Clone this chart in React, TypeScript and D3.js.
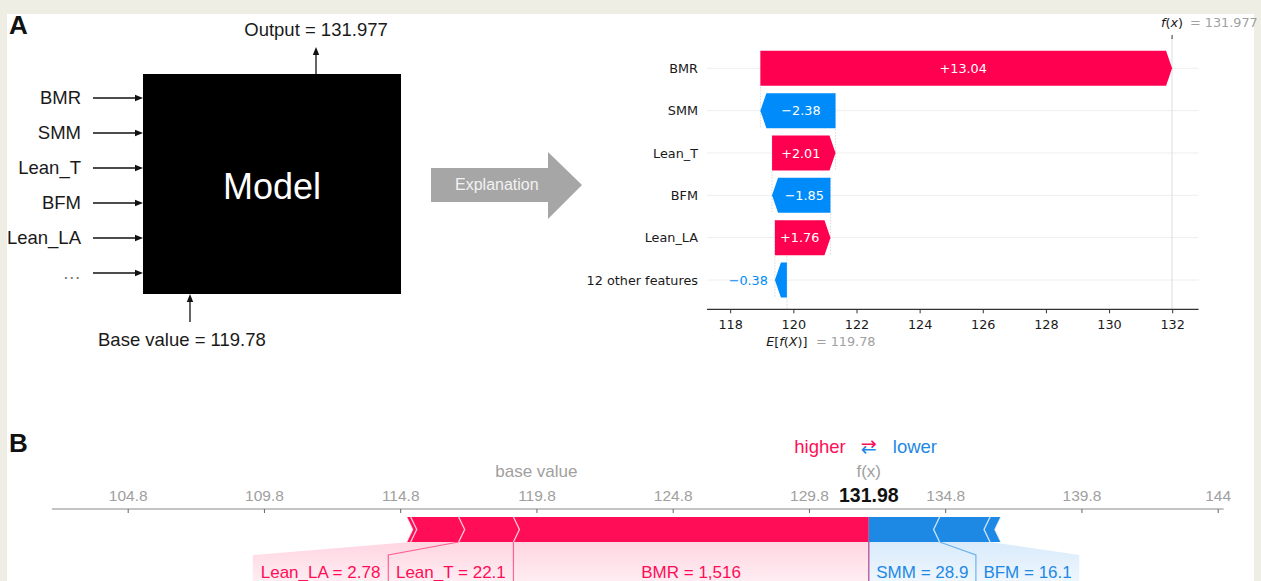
import React, { useMemo } from "react";
import * as d3 from "d3";

const W = 1261;
const H = 581;

// ---- Panel A: model schematic ----
const modelInputs = ["BMR", "SMM", "Lean_T", "BFM", "Lean_LA", "…"];
const modelOutput = 131.977;
const modelBase = 119.78;

// ---- Panel A: waterfall explanation ----
const wfFeatures = ["BMR", "SMM", "Lean_T", "BFM", "Lean_LA", "12 other features"];
const wfValues = [13.04, -2.38, 2.01, -1.85, 1.76, -0.38];
const wfTicks = [118, 120, 122, 124, 126, 128, 130, 132];

// ---- Panel B: force plot ----
// positive contributions, ordered outward from f(x)
const posLabels = ["BMR = 1,516", "Lean_T = 22.1", "Lean_LA = 2.78", ""];
const posValues = [13.04, 2.01, 1.76, 0.15];
// negative contributions, ordered outward from f(x)
const negLabels = ["SMM = 28.9", "BFM = 16.1", ""];
const negValues = [2.38, 1.85, 0.4];
const forceTicks = [104.8, 109.8, 114.8, 119.8, 124.8, 129.8, 134.8, 139.8, 144.8];
const forceTickLabels = ["104.8", "109.8", "114.8", "119.8", "124.8", "129.8", "134.8", "139.8", "144"];

const SANS = "'Liberation Sans', Arial, Helvetica, sans-serif";
const DJ = "'DejaVu Sans', 'Liberation Sans', sans-serif";
const WF_RED = "#ff0051";
const WF_BLUE = "#008bfb";
const F_RED = "#ff0d57";
const F_BLUE = "#1e88e5";

const line = d3.line<[number, number]>();
const poly = (pts: [number, number][]) => line(pts) + "Z";

let ctx: CanvasRenderingContext2D | null = null;
function measure(s: string, font: string) {
  if (!ctx) ctx = document.createElement("canvas").getContext("2d");
  if (!ctx) return s.length * 8;
  ctx.font = font;
  return ctx.measureText(s).width;
}

function ArrowHead({ x, y, dir }: { x: number; y: number; dir: "right" | "up" }) {
  const L = 8, Wd = 3.2;
  const pts: [number, number][] =
    dir === "right"
      ? [[x, y], [x - L, y - Wd], [x - L, y + Wd]]
      : [[x, y], [x - Wd, y + L], [x + Wd, y + L]];
  return <path d={poly(pts)} fill="#111" />;
}

function PanelASchematic() {
  const box = { x: 143, y: 74, w: 258, h: 220 };
  const rowY = d3.scalePoint<string>().domain(modelInputs).range([98, 273]);
  const outX = 316;
  const baseX = 190;
  return (
    <g>
      <text x={9} y={34} fontFamily={SANS} fontWeight="bold" fontSize={26} fill="#111">A</text>
      <rect x={box.x} y={box.y} width={box.w} height={box.h} fill="#000" />
      <text x={box.x + box.w / 2} y={199} textAnchor="middle" fontFamily={SANS} fontSize={36} fill="#fff">Model</text>
      {modelInputs.map((f) => {
        const y = rowY(f)!;
        return (
          <g key={f}>
            <text x={81} y={y + 6} textAnchor="end" fontFamily={SANS} fontSize={18.5} fill={f === "…" ? "#777" : "#1a1a1a"}>{f}</text>
            <line x1={93} x2={box.x - 6} y1={y} y2={y} stroke="#111" strokeWidth={1.3} />
            <ArrowHead x={box.x} y={y} dir="right" />
          </g>
        );
      })}
      <line x1={outX} x2={outX} y1={box.y} y2={53} stroke="#111" strokeWidth={1.3} />
      <ArrowHead x={outX} y={47} dir="up" />
      <text x={outX} y={36} textAnchor="middle" fontFamily={SANS} fontSize={18.5} fill="#1a1a1a">
        {`Output = ${modelOutput}`}
      </text>
      <line x1={baseX} x2={baseX} y1={322} y2={300} stroke="#111" strokeWidth={1.3} />
      <ArrowHead x={baseX} y={box.y + box.h} dir="up" />
      <text x={98} y={346} fontFamily={SANS} fontSize={18.5} fill="#1a1a1a">{`Base value = ${modelBase}`}</text>
      {/* explanation arrow */}
      <path
        d={poly([[431, 168], [548, 168], [548, 152], [582, 185], [548, 219], [548, 202], [431, 202]])}
        fill="#a6a6a6"
      />
      <text x={455} y={190} fontFamily={SANS} fontSize={16} fill="#f2f2f2">Explanation</text>
    </g>
  );
}

function Waterfall() {
  const x = d3.scaleLinear().domain([118, 132]).range([730.7, 1172.7]);
  const y = d3.scalePoint<string>().domain(wfFeatures).range([68.3, 280]);
  const barH = 35;
  const hl = 6;
  const axisY = 309.3;
  const axisL = x(117.25);
  const axisR = x(132.82);
  const fs = 12.8;

  const bars: { name: string; v: number; start: number; end: number }[] = [];
  let cur = modelBase;
  for (let i = wfFeatures.length - 1; i >= 0; i--) {
    bars[i] = { name: wfFeatures[i], v: wfValues[i], start: cur, end: cur + wfValues[i] };
    cur += wfValues[i];
  }
  const fxVal = cur;
  const fmt = (v: number) => (v > 0 ? "+" : "\u2212") + Math.abs(v).toFixed(2);

  return (
    <g>
      {/* row guide lines */}
      {wfFeatures.map((f) => (
        <line key={f} x1={axisL} x2={axisR} y1={y(f)} y2={y(f)} stroke="#eeeeee" strokeWidth={1} />
      ))}
      {/* f(x) and E[f(X)] reference lines */}
      <line x1={x(modelOutput)} x2={x(modelOutput)} y1={38} y2={axisY} stroke="#dddddd" strokeWidth={1} />
      <line x1={x(modelBase)} x2={x(modelBase)} y1={253} y2={axisY} stroke="#d4d4d4" strokeWidth={0.8} strokeDasharray="1.5 1.5" />
      {/* connectors between consecutive bars */}
      {bars.slice(0, -1).map((b, i) => (
        <line
          key={"c" + i}
          x1={x(b.start)}
          x2={x(b.start)}
          y1={y(b.name)! - barH / 2}
          y2={y(bars[i + 1].name)! + barH / 2}
          stroke="#cfcfcf"
          strokeWidth={0.8}
          strokeDasharray="1.5 1.5"
        />
      ))}
      {bars.map((b) => {
        const cy = y(b.name)!;
        const top = cy - barH / 2;
        const bot = cy + barH / 2;
        const lo = x(Math.min(b.start, b.end));
        const hi = x(Math.max(b.start, b.end));
        const h = Math.min(hl, hi - lo);
        const pos = b.v > 0;
        const pts: [number, number][] = pos
          ? [[lo, top], [hi - h, top], [hi, cy], [hi - h, bot], [lo, bot]]
          : [[hi, top], [lo + h, top], [lo, cy], [lo + h, bot], [hi, bot]];
        const label = fmt(b.v);
        const tw = measure(label, `${fs}px 'DejaVu Sans'`);
        const inside = hi - lo - h > tw + 6;
        const cx = pos ? (lo + hi - h) / 2 : (lo + h + hi) / 2;
        return (
          <g key={b.name}>
            <path d={poly(pts)} fill={pos ? WF_RED : WF_BLUE} />
            {inside ? (
              <text x={cx} y={cy + 4.6} textAnchor="middle" fontFamily={DJ} fontSize={fs} fill="#fff">{label}</text>
            ) : (
              <text x={pos ? hi + 7 : lo - 7} y={cy + 4.6} textAnchor={pos ? "start" : "end"} fontFamily={DJ} fontSize={fs} fill={pos ? WF_RED : WF_BLUE}>
                {label}
              </text>
            )}
            <text x={698} y={cy + 4.6} textAnchor="end" fontFamily={DJ} fontSize={fs} fill="#1a1a1a">{b.name}</text>
          </g>
        );
      })}
      {/* bottom axis */}
      <line x1={axisL} x2={axisR} y1={axisY} y2={axisY} stroke="#333" strokeWidth={1.2} />
      {wfTicks.map((t) => (
        <g key={t}>
          <line x1={x(t)} x2={x(t)} y1={axisY} y2={axisY + 4} stroke="#333" strokeWidth={1} />
          <text x={x(t)} y={329} textAnchor="middle" fontFamily={DJ} fontSize={fs} fill="#1a1a1a">{t}</text>
        </g>
      ))}
      {/* expected value label */}
      <text x={x(modelBase)} y={346} textAnchor="middle" fontFamily={DJ} fontSize={fs} fill="#1a1a1a">
        <tspan fontStyle="italic">E</tspan>[<tspan fontStyle="italic">f</tspan>(<tspan fontStyle="italic">X</tspan>)]
      </text>
      <text x={x(modelBase) + 29} y={346} fontFamily={DJ} fontSize={fs} fill="#a0a0a0">{`= ${modelBase}`}</text>
      {/* model output label */}
      <line x1={x(fxVal)} x2={x(fxVal)} y1={35} y2={39} stroke="#333" strokeWidth={1} />
      <text x={x(modelOutput)} y={27} textAnchor="middle" fontFamily={DJ} fontSize={fs} fill="#1a1a1a">
        <tspan fontStyle="italic">f</tspan>(<tspan fontStyle="italic">x</tspan>)
      </text>
      <text x={x(modelOutput) + 18} y={27} fontFamily={DJ} fontSize={fs} fill="#a0a0a0">{`= ${modelOutput}`}</text>
    </g>
  );
}

function ForcePlot() {
  const x = d3.scaleLinear().domain([114.8, 134.8]).range([400.7, 945.7]);
  const fxVal = modelOutput;
  const fTop = 517;
  const fBot = 542;
  const mid = (fTop + fBot) / 2;
  const t = 6;
  const labelTop = 555;
  const bottom = 600;
  const axisY = 509;
  const labelFont = `17px 'Liberation Sans'`;

  const layout = useMemo(() => {
    // positive segments, stacked leftward from f(x)
    const pos: any[] = [];
    let cur = fxVal;
    let prevLeft = x(fxVal);
    posValues.forEach((v, i) => {
      const a = x(cur - v);
      const b = x(cur);
      cur -= v;
      const seg = { a, b, tipRight: i > 0, label: posLabels[i], La: 0, Lb: 0 };
      if (seg.label) {
        const w = Math.max(measure(seg.label, labelFont) + 15, b - a);
        const c = (a + b) / 2;
        let Lb = c + w / 2;
        if (Lb > prevLeft) Lb = prevLeft;
        seg.Lb = Lb;
        seg.La = Lb - w;
        prevLeft = seg.La;
      }
      pos.push(seg);
    });
    // negative segments, stacked rightward from f(x)
    const neg: any[] = [];
    cur = fxVal;
    let prevRight = x(fxVal);
    negValues.forEach((v, i) => {
      const a = x(cur);
      const b = x(cur + v);
      cur += v;
      const seg = { a, b, tipLeft: i > 0, label: negLabels[i], La: 0, Lb: 0 };
      if (seg.label) {
        const w = Math.max(measure(seg.label, labelFont) + 15, b - a);
        const c = (a + b) / 2;
        let La = c - w / 2;
        if (La < prevRight) La = prevRight;
        seg.La = La;
        seg.Lb = La + w;
        prevRight = seg.Lb;
      }
      neg.push(seg);
    });
    return { pos, neg };
  }, []);

  const axisL = x(102.0);
  const axisR = x(145.0);
  const fxX = x(fxVal);

  return (
    <g>
      <defs>
        <linearGradient id="gradPos" x1="0" y1="0" x2="0" y2="1">
          <stop offset="0%" stopColor={F_RED} stopOpacity={0.17} />
          <stop offset="100%" stopColor={F_RED} stopOpacity={0.03} />
        </linearGradient>
        <linearGradient id="gradNeg" x1="0" y1="0" x2="0" y2="1">
          <stop offset="0%" stopColor={F_BLUE} stopOpacity={0.17} />
          <stop offset="100%" stopColor={F_BLUE} stopOpacity={0.03} />
        </linearGradient>
        <linearGradient id="gradArrow" gradientUnits="userSpaceOnUse" x1="0" y1="439" x2="0" y2="455">
          <stop offset="50%" stopColor={F_RED} />
          <stop offset="50%" stopColor={F_BLUE} />
        </linearGradient>
      </defs>
      <text x={9} y={452} fontFamily={SANS} fontWeight="bold" fontSize={26} fill="#111">B</text>

      {/* legend */}
      <text x={fxX - 23} y={453} textAnchor="end" fontFamily={SANS} fontSize={18.5} fill={F_RED}>higher</text>
      <text x={fxX} y={453} textAnchor="middle" fontFamily={DJ} fontSize={19} fill="url(#gradArrow)">⇄</text>
      <text x={fxX + 24} y={453} fontFamily={SANS} fontSize={18.5} fill={F_BLUE}>lower</text>

      <text x={x(modelBase)} y={477} textAnchor="middle" fontFamily={SANS} fontSize={17} fill="#a0a0a0">base value</text>
      <text x={fxX} y={477} textAnchor="middle" fontFamily={SANS} fontSize={17} fill="#a0a0a0">f(x)</text>

      {/* axis */}
      <line x1={axisL} x2={axisR} y1={axisY} y2={axisY} stroke="#b0b0b0" strokeWidth={1.6} />
      {forceTicks.map((tv, i) => (
        <g key={tv}>
          <line x1={x(tv)} x2={x(tv)} y1={axisY} y2={axisY + 4} stroke="#666" strokeWidth={1} />
          <text x={x(tv)} y={501} textAnchor="middle" fontFamily={SANS} fontSize={15.5} fill="#a0a0a0">{forceTickLabels[i]}</text>
        </g>
      ))}
      <rect x={fxX - 33} y={486} width={66} height={18} fill="#fff" />
      <text x={fxX} y={502} textAnchor="middle" fontFamily={SANS} fontWeight="bold" fontSize={19.5} fill="#111">
        {fxVal.toFixed(2)}
      </text>

      {/* label backgrounds */}
      {layout.pos.filter((s) => s.label).map((s, i) => (
        <path key={"pb" + i} d={poly([[s.a, fBot], [s.b, fBot], [s.Lb, labelTop], [s.Lb, bottom], [s.La, bottom], [s.La, labelTop]])} fill="url(#gradPos)" />
      ))}
      {layout.neg.filter((s) => s.label).map((s, i) => {
        const a0 = s.tipLeft ? s.a + t : s.a;
        return (
          <path key={"nb" + i} d={poly([[a0, fBot], [s.b + t, fBot], [s.Lb, labelTop], [s.Lb, bottom], [s.La, bottom], [s.La, labelTop]])} fill="url(#gradNeg)" />
        );
      })}
      {/* separators */}
      {layout.neg.filter((s) => s.label).map((s, i) => {
        const a0 = s.tipLeft ? s.a + t : s.a;
        return (
          <path key={"ns" + i} d={line([[a0, fBot], [s.La, labelTop], [s.La, bottom]])!} fill="none" stroke={F_BLUE} strokeOpacity={0.6} strokeWidth={1.2} />
        );
      })}
      {layout.pos.filter((s) => s.label).map((s, i) => (
        <path key={"ps" + i} d={line([[s.b, fBot], [s.Lb, labelTop], [s.Lb, bottom]])!} fill="none" stroke={F_RED} strokeOpacity={0.6} strokeWidth={1.2} />
      ))}

      {/* bar segments */}
      {layout.pos.map((s, i) => {
        const pts: [number, number][] = [[s.a, fTop], [s.b, fTop]];
        if (s.tipRight) pts.push([s.b + t, mid]);
        pts.push([s.b, fBot], [s.a, fBot], [s.a + t, mid]);
        return <path key={"p" + i} d={poly(pts)} fill={F_RED} />;
      })}
      {layout.neg.map((s, i) => {
        const pts: [number, number][] = s.tipLeft ? [[s.a, mid], [s.a + t, fTop]] : [[s.a, fTop]];
        pts.push([s.b + t, fTop], [s.b, mid], [s.b + t, fBot]);
        pts.push(s.tipLeft ? [s.a + t, fBot] : [s.a, fBot]);
        return <path key={"n" + i} d={poly(pts)} fill={F_BLUE} />;
      })}
      {/* chevron edges */}
      {layout.pos.map((s, i) => (
        <g key={"pc" + i}>
          {s.tipRight && <path d={line([[s.b, fTop], [s.b + t, mid], [s.b, fBot]])!} fill="none" stroke="#fff" strokeOpacity={0.7} strokeWidth={1.4} />}
          {i === layout.pos.length - 1 && <path d={line([[s.a, fTop], [s.a + t, mid], [s.a, fBot]])!} fill="none" stroke="#fff" strokeOpacity={0.7} strokeWidth={1.4} />}
        </g>
      ))}
      {layout.neg.map((s, i) => (
        <g key={"nc" + i}>
          {s.tipLeft && <path d={line([[s.a + t, fTop], [s.a, mid], [s.a + t, fBot]])!} fill="none" stroke="#fff" strokeOpacity={0.7} strokeWidth={1.4} />}
          {i === layout.neg.length - 1 && <path d={line([[s.b + t, fTop], [s.b, mid], [s.b + t, fBot]])!} fill="none" stroke="#fff" strokeOpacity={0.7} strokeWidth={1.4} />}
        </g>
      ))}

      {/* feature labels */}
      {layout.pos.filter((s) => s.label).map((s, i) => (
        <text key={"pl" + i} x={(s.La + s.Lb) / 2} y={578} textAnchor="middle" fontFamily={SANS} fontSize={17} fill={F_RED}>{s.label}</text>
      ))}
      {layout.neg.filter((s) => s.label).map((s, i) => (
        <text key={"nl" + i} x={(s.La + s.Lb) / 2} y={578} textAnchor="middle" fontFamily={SANS} fontSize={17} fill={F_BLUE}>{s.label}</text>
      ))}
    </g>
  );
}

export default function App() {
  return (
    <svg
      width={W}
      height={H}
      viewBox={`0 0 ${W} ${H}`}
      style={{ position: "absolute", left: 0, top: 0, display: "block" }}
    >
      <rect x={0} y={0} width={W} height={H} fill="#efeee5" />
      <rect x={7} y={14} width={1247} height={H - 14} fill="#ffffff" />
      <PanelASchematic />
      <Waterfall />
      <ForcePlot />
    </svg>
  );
}
